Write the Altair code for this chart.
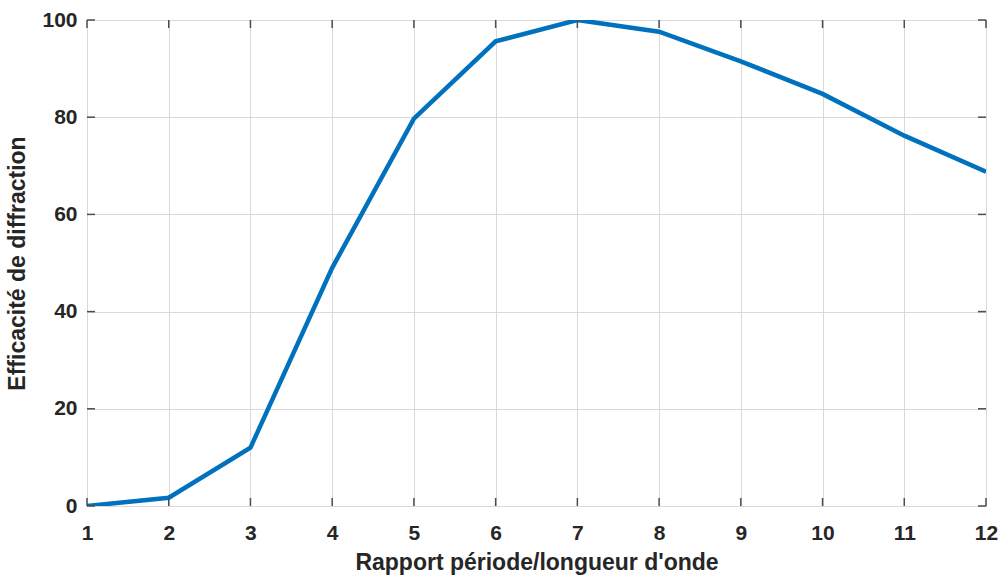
import altair as alt
import pandas as pd

ratio = [1, 2, 3, 4, 5, 6, 7, 8, 9, 10, 11, 12]
efficiency = [0.0, 1.7, 12.0, 49.0, 79.7, 95.6, 100.0, 97.6, 91.5, 84.8, 76.2, 68.8]
x_ticks = [1, 2, 3, 4, 5, 6, 7, 8, 9, 10, 11, 12]
y_ticks = [0, 20, 40, 60, 80, 100]

W, H = 899, 486
FONT = "Liberation Sans"
TXT = "#262626"
FRAME = "#4d4d4d"

df = pd.DataFrame({"x": ratio, "y": efficiency})
xt = pd.DataFrame({"t": x_ticks})
yt = pd.DataFrame({"t": y_ticks})

xs = alt.Scale(domain=[1, 12], nice=False, zero=False)
ys = alt.Scale(domain=[0, 100], nice=False)

line = alt.Chart(df).mark_line(color="#0072BD", strokeWidth=4.5, clip=True).encode(
    x=alt.X("x:Q", scale=xs,
            axis=alt.Axis(values=x_ticks, format="d", title="Rapport période/longueur d'onde",
                          grid=True, gridColor="#d9d9d9", ticks=False, domain=False,
                          labelPadding=16, labelFontSize=21, labelFontWeight="bold",
                          labelColor=TXT, titleFontSize=23, titleFontWeight="bold",
                          titleColor=TXT, titlePadding=8, labelFont=FONT, titleFont=FONT,
                          labelFlush=False)),
    y=alt.Y("y:Q", scale=ys,
            axis=alt.Axis(values=y_ticks, format="d", title="Efficacité de diffraction",
                          grid=True, gridColor="#d9d9d9", ticks=False, domain=False,
                          labelPadding=10, labelFontSize=21, labelFontWeight="bold",
                          labelColor=TXT, titleFontSize=23, titleFontWeight="bold",
                          titleColor=TXT, titlePadding=12, labelFont=FONT, titleFont=FONT,
                          labelFlush=False)),
)

tick_len = 8
xb = alt.Chart(xt).mark_rule(color=FRAME, strokeWidth=1.5).encode(
    x=alt.X("t:Q", scale=xs), y=alt.value(H), y2=alt.value(H - tick_len))
xtop = alt.Chart(xt).mark_rule(color=FRAME, strokeWidth=1.5).encode(
    x=alt.X("t:Q", scale=xs), y=alt.value(0), y2=alt.value(tick_len))
yl = alt.Chart(yt).mark_rule(color=FRAME, strokeWidth=1.5).encode(
    y=alt.Y("t:Q", scale=ys), x=alt.value(0), x2=alt.value(tick_len))
yr = alt.Chart(yt).mark_rule(color=FRAME, strokeWidth=1.5).encode(
    y=alt.Y("t:Q", scale=ys), x=alt.value(W), x2=alt.value(W - tick_len))

chart = alt.layer(line, xb, xtop, yl, yr).properties(
    width=W, height=H,
    autosize=alt.AutoSizeParams(type="none"),
    padding={"left": 87, "top": 20, "right": 14, "bottom": 72},
).configure_view(stroke=FRAME, strokeWidth=1.5).configure(background="white")

chart.save("out.html", embed_options={"renderer": "svg", "actions": False})
